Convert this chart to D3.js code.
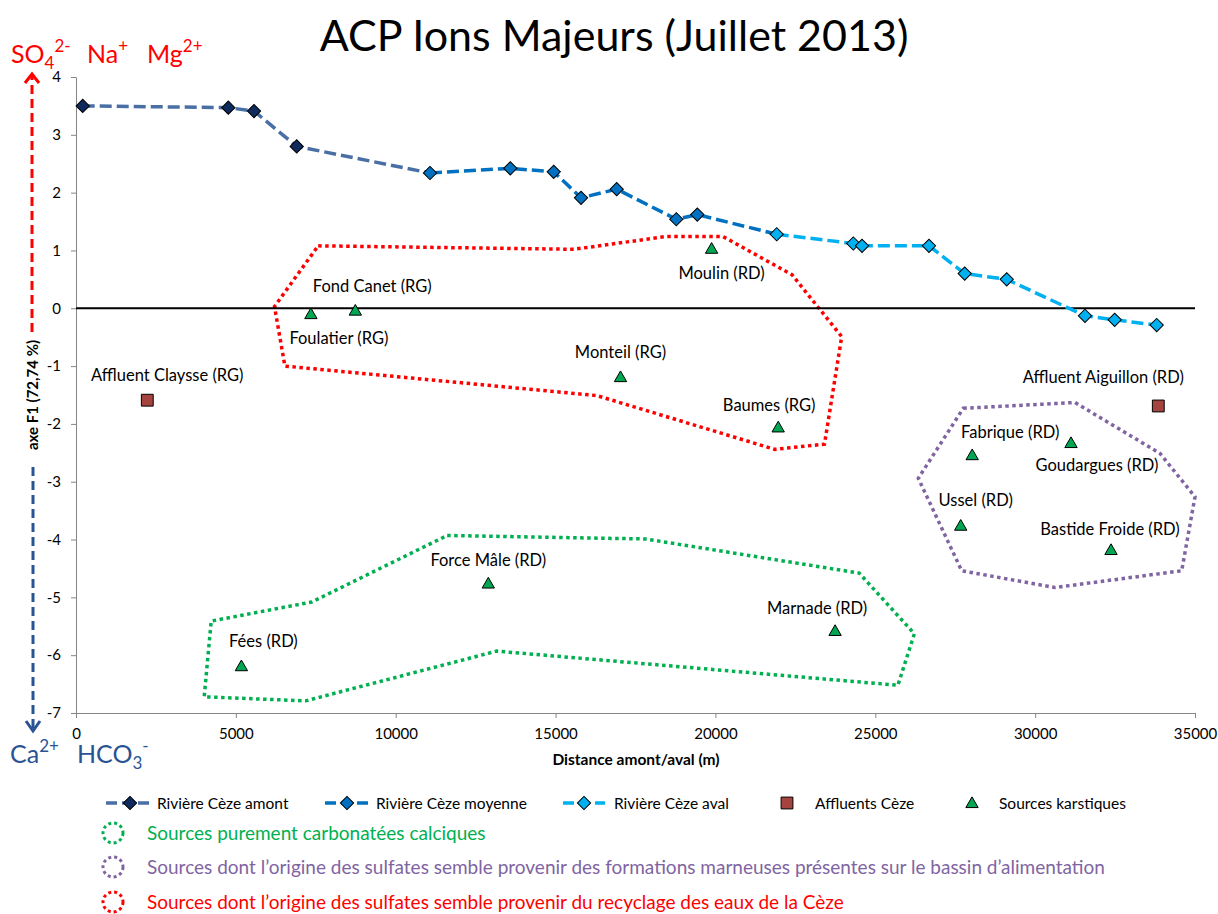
<!DOCTYPE html>
<html>
<head>
<meta charset="utf-8">
<script src="https://d3js.org/d3.v7.min.js"></script>
<style>
body { margin: 0; background: #fff; }
svg { font-family: Lato, sans-serif; }
</style>
</head>
<body>
<svg id="chart" width="1218" height="914"></svg>
<script>
// Data: distance (m) and score on axis F1
var riviereAmont = [[210, 3.50], [4764, 3.47], [5568, 3.41], [6903, 2.80]];
var riviereMoyenne = [[11072, 2.34], [13584, 2.42], [14942, 2.36], [15796, 1.91], [16912, 2.06], [18776, 1.54], [19433, 1.62]];
var riviereAval = [[21917, 1.28], [24312, 1.12], [24585, 1.08], [26680, 1.08], [27797, 0.60], [29111, 0.50], [31559, -0.13], [32488, -0.20], [33802, -0.29]];

var affluentNames = ['Affluent Claysse (RG)', 'Affluent Aiguillon (RD)'];
var affluentDist = [2230, 33852];
var affluentF1 = [-1.59, -1.69];

var sourceNames = ['Foulatier (RG)', 'Fond Canet (RG)', 'Moulin (RD)', 'Monteil (RG)', 'Baumes (RG)', 'Fabrique (RD)', 'Goudargues (RD)', 'Ussel (RD)', 'Bastide Froide (RD)', 'Force Mâle (RD)', 'Marnade (RD)', 'Fées (RD)'];
var sourceDist = [7347, 8736, 19880, 17031, 21963, 28031, 31122, 27672, 32373, 12896, 23743, 5173];
var sourceF1 = [-0.10, -0.04, 1.03, -1.19, -2.06, -2.54, -2.33, -3.76, -4.18, -4.76, -5.58, -6.19];

// Outlines of the hand drawn groups (distance, F1)
var zoneRecyclage = [[7575, 1.08], [15570, 1.02], [18445, 1.24], [20240, 1.24], [22395, 0.58], [23950, -0.49], [23411, -2.35], [21854, -2.44], [16290, -1.51], [6534, -1.00], [6209, 0.03]];
var zoneCarbonatee = [[11610, -3.93], [17810, -3.99], [24497, -4.58], [26223, -5.63], [25707, -6.52], [13159, -5.93], [7181, -6.79], [4010, -6.72], [4229, -5.41], [7375, -5.08]];
var zoneMarneuse = [[27753, -1.73], [31246, -1.63], [33905, -2.51], [35000, -3.26], [34584, -4.54], [30621, -4.83], [27703, -4.54], [26345, -2.94]];

var xTicks = [0, 5000, 10000, 15000, 20000, 25000, 30000, 35000];
var yTicks = [-7, -6, -5, -4, -3, -2, -1, 0, 1, 2, 3, 4];

var seriesLegend = ['Rivière Cèze amont', 'Rivière Cèze moyenne', 'Rivière Cèze aval', 'Affluents Cèze', 'Sources karstiques'];
var zoneLegend = ['Sources purement carbonatées calciques',
	'Sources dont l’origine des sulfates semble provenir des formations marneuses présentes sur le bassin d’alimentation',
	'Sources dont l’origine des sulfates semble provenir du recyclage des eaux de la Cèze'];

// Set the margins of the graph
var margin = {top: 77, right: 23, bottom: 201, left: 76};
var width = 1218 - margin.left - margin.right,
	height = 914 - margin.top - margin.bottom;

var colAmont = '#4a6fa5', colAmontFill = '#0f2a5c';
var colMoyenne = '#0070c0', colAval = '#00b0f0';
var colAffluent = '#a5433f', colSource = '#00a651';
var colGreen = '#00b050', colPurple = '#8064a2', colRed = '#ff0000', colBlue = '#2a5394';

// Label offsets (px) from each point
var labelOffsets = {
	'Foulatier (RG)': [28, 24], 'Fond Canet (RG)': [17, -25], 'Moulin (RD)': [10, 24],
	'Monteil (RG)': [0, -25], 'Baumes (RG)': [-9, -22], 'Fabrique (RD)': [38, -23],
	'Goudargues (RD)': [26, 22], 'Ussel (RD)': [15, -26], 'Bastide Froide (RD)': [-1, -21],
	'Force Mâle (RD)': [0, -23], 'Marnade (RD)': [-18, -23], 'Fées (RD)': [22, -25],
	'Affluent Claysse (RG)': [20, -25], 'Affluent Aiguillon (RD)': [-55, -29]
};

var root = d3.select('#chart');

var svg = root.append('g')
	.attr('transform', 'translate(' + margin.left + ',' + margin.top + ')');

var x = d3.scaleLinear().domain([0, 35000]).range([0, width]);
var y = d3.scaleLinear().domain([-7, 4]).range([height, 0]);

// Title
root.append('text')
	.attr('x', 614).attr('y', 51)
	.attr('text-anchor', 'middle')
	.style('font-size', '43px')
	.style('fill', '#000')
	.text('ACP Ions Majeurs (Juillet 2013)');

// Group outlines
var outline = d3.line()
	.x(function(d) { return x(d[0]); })
	.y(function(d) { return y(d[1]); })
	.curve(d3.curveLinearClosed);

[[zoneRecyclage, colRed], [zoneCarbonatee, colGreen], [zoneMarneuse, colPurple]].forEach(function(z) {
	svg.append('path')
		.attr('d', outline(z[0]))
		.style('fill', 'none')
		.style('stroke', z[1])
		.style('stroke-width', 3.5)
		.style('stroke-dasharray', '3.5,3.5');
});

// Axes
var yAxis = svg.append('g')
	.call(d3.axisLeft(y).tickValues(yTicks).tickSize(5).tickSizeOuter(0).tickPadding(10)
		.tickFormat(function(d) { return String(d); }));
var xAxis = svg.append('g')
	.attr('transform', 'translate(0,' + height + ')')
	.call(d3.axisBottom(x).tickValues(xTicks).tickSize(5).tickSizeOuter(0).tickPadding(10)
		.tickFormat(function(d) { return String(d); }));

[yAxis, xAxis].forEach(function(a) {
	a.select('.domain').style('stroke', '#868686');
	a.selectAll('.tick line').style('stroke', '#868686');
	a.selectAll('.tick text')
		.style('font-family', 'Lato, sans-serif')
		.style('font-size', '15px')
		.style('fill', '#000');
});

// Zero line
svg.append('line')
	.attr('x1', 0).attr('x2', width)
	.attr('y1', y(0)).attr('y2', y(0))
	.style('stroke', '#000')
	.style('stroke-width', 2);

// River lines (each section joins the first point of the next one)
var line = d3.line()
	.x(function(d) { return x(d[0]); })
	.y(function(d) { return y(d[1]); });

var rivers = [
	{pts: riviereAmont.concat([riviereMoyenne[0]]), stroke: colAmont},
	{pts: riviereMoyenne.concat([riviereAval[0]]), stroke: colMoyenne},
	{pts: riviereAval, stroke: colAval}
];
rivers.forEach(function(r) {
	svg.append('path')
		.attr('d', line(r.pts))
		.style('fill', 'none')
		.style('stroke', r.stroke)
		.style('stroke-width', 3.5)
		.style('stroke-dasharray', '12,5');
});

var diamond = d3.symbol().type(d3.symbolSquare).size(88);
var square = d3.symbol().type(d3.symbolSquare).size(140);
var triangle = d3.symbol().type(d3.symbolTriangle).size(66);

[[riviereAmont, colAmontFill], [riviereMoyenne, colMoyenne], [riviereAval, colAval]].forEach(function(s) {
	svg.selectAll(null)
		.data(s[0]).enter()
		.append('path')
		.attr('d', diamond)
		.attr('transform', function(d) { return 'translate(' + x(d[0]) + ',' + y(d[1]) + ') rotate(45)'; })
		.style('fill', s[1])
		.style('stroke', '#000')
		.style('stroke-width', 1);
});

// Tributaries
svg.selectAll('.affluent')
	.data(affluentNames).enter()
	.append('path')
	.attr('class', 'affluent')
	.attr('d', square)
	.attr('transform', function(d, i) { return 'translate(' + x(affluentDist[i]) + ',' + y(affluentF1[i]) + ')'; })
	.style('fill', colAffluent)
	.style('stroke', '#000')
	.style('stroke-width', 1);

// Karstic springs
svg.selectAll('.source')
	.data(sourceNames).enter()
	.append('path')
	.attr('class', 'source')
	.attr('d', triangle)
	.attr('transform', function(d, i) { return 'translate(' + x(sourceDist[i]) + ',' + (y(sourceF1[i]) + 1) + ')'; })
	.style('fill', colSource)
	.style('stroke', '#000')
	.style('stroke-width', 1);

// Point labels
var labelled = sourceNames.map(function(n, i) { return {name: n, d: sourceDist[i], v: sourceF1[i]}; })
	.concat(affluentNames.map(function(n, i) { return {name: n, d: affluentDist[i], v: affluentF1[i]}; }));

svg.selectAll('.pointLabel')
	.data(labelled).enter()
	.append('text')
	.attr('class', 'pointLabel')
	.attr('x', function(d) { return x(d.d) + labelOffsets[d.name][0]; })
	.attr('y', function(d) { return y(d.v) + labelOffsets[d.name][1]; })
	.attr('dy', '0.36em')
	.attr('text-anchor', 'middle')
	.style('font-size', '16.5px')
	.style('fill', '#000')
	.text(function(d) { return d.name; });

// Axis titles
root.append('text')
	.attr('transform', 'translate(38,395) rotate(-90)')
	.attr('text-anchor', 'middle')
	.style('font-size', '15px')
	.style('font-weight', 'bold')
	.text('axe F1 (72,74 %)');

root.append('text')
	.attr('x', 636).attr('y', 765)
	.attr('text-anchor', 'middle')
	.style('font-size', '15.5px')
	.style('font-weight', 'bold')
	.text('Distance amont/aval (m)');

// Direction arrows on the F1 axis
root.append('line')
	.attr('x1', 32).attr('x2', 32).attr('y1', 332).attr('y2', 76)
	.style('stroke', colRed).style('stroke-width', 3).style('stroke-dasharray', '9,5');
root.append('path')
	.attr('d', 'M25,83L32,74L39,83')
	.style('fill', 'none').style('stroke', colRed).style('stroke-width', 3);
root.append('line')
	.attr('x1', 33).attr('x2', 33).attr('y1', 467).attr('y2', 730)
	.style('stroke', colBlue).style('stroke-width', 3).style('stroke-dasharray', '9,5');
root.append('path')
	.attr('d', 'M26,721L33,731L40,721')
	.style('fill', 'none').style('stroke', colBlue).style('stroke-width', 3);

// Ion labels
function ion(xPos, yPos, color, parts) {
	var t = root.append('text')
		.attr('x', xPos).attr('y', yPos)
		.style('font-size', '25px')
		.style('fill', color);
	var shift = 0;
	parts.forEach(function(p) {
		var target = p[1] === 'sub' ? 6 : (p[1] === 'sup' ? -11 : 0);
		t.append('tspan')
			.attr('dy', target - shift)
			.style('font-size', p[1] ? '17px' : '25px')
			.text(p[0]);
		shift = target;
	});
}
ion(11, 63, colRed, [['SO'], ['4', 'sub'], ['2-', 'sup']]);
ion(87, 63, colRed, [['Na'], ['+', 'sup']]);
ion(147, 63, colRed, [['Mg'], ['2+', 'sup']]);
ion(10, 763, colBlue, [['Ca'], ['2+', 'sup']]);
ion(77, 763, colBlue, [['HCO'], ['3', 'sub'], ['-', 'sup']]);

// Series legend
var legendY = 803;
var legendItems = [
	{x0: 106, x1: 152, m: 130, tx: 157, type: 'line', stroke: colAmont, fill: colAmontFill},
	{x0: 325, x1: 369, m: 347, tx: 376, type: 'line', stroke: colMoyenne, fill: colMoyenne},
	{x0: 563, x1: 605, m: 584, tx: 614, type: 'line', stroke: colAval, fill: colAval},
	{m: 787, tx: 815, type: 'square', fill: colAffluent},
	{m: 972, tx: 999, type: 'triangle', fill: colSource}
];
var legend = root.append('g');
legendItems.forEach(function(it, i) {
	if (it.type === 'line') {
		legend.append('line')
			.attr('x1', it.x0).attr('x2', it.x1).attr('y1', legendY).attr('y2', legendY)
			.style('stroke', it.stroke).style('stroke-width', 3.5).style('stroke-dasharray', '11,5');
	}
	var sym = it.type === 'square' ? square : (it.type === 'triangle' ? triangle : diamond);
	legend.append('path')
		.attr('d', sym)
		.attr('transform', 'translate(' + it.m + ',' + (legendY + (it.type === 'triangle' ? 1 : 0)) + ')' + (it.type === 'line' ? ' rotate(45)' : ''))
		.style('fill', it.fill).style('stroke', '#000').style('stroke-width', 1);
	legend.append('text')
		.attr('x', it.tx).attr('y', legendY).attr('dy', '0.36em')
		.style('font-size', '15.5px')
		.style('fill', '#000')
		.text(seriesLegend[i]);
});

// Group legend
var zoneColors = [colGreen, colPurple, colRed];
var zoneRows = [833, 867, 902];
zoneLegend.forEach(function(label, i) {
	legend.append('circle')
		.attr('cx', 113).attr('cy', zoneRows[i]).attr('r', 10)
		.style('fill', 'none').style('stroke', zoneColors[i])
		.style('stroke-width', 3).style('stroke-dasharray', '3,3');
	legend.append('text')
		.attr('x', 147).attr('y', zoneRows[i]).attr('dy', '0.36em')
		.style('font-size', '19px')
		.style('fill', zoneColors[i])
		.text(label);
});
</script>
</body>
</html>
